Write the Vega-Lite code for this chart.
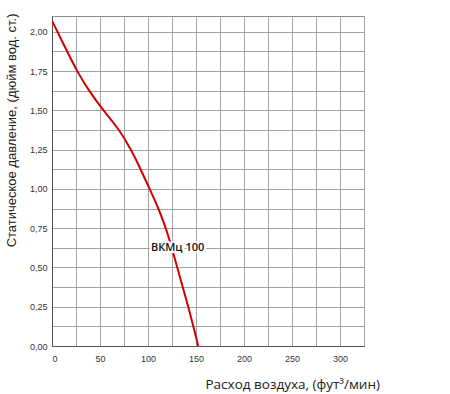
{
  "$schema": "https://vega.github.io/schema/vega-lite/v6.json",
  "autosize": "none",
  "width": 312,
  "height": 330,
  "padding": {"left": 52, "top": 16, "right": 86, "bottom": 48},
  "background": "white",
  "config": {
    "view": {"stroke": "#8c8c8c", "strokeWidth": 1},
    "font": "Liberation Sans"
  },
  "encoding": {
    "x": {
      "field": "q", "type": "quantitative",
      "scale": {"domain": [0, 325], "nice": false, "zero": false},
      "axis": {
        "values": [0, 25, 50, 75, 100, 125, 150, 175, 200, 225, 250, 275, 300, 325],
        "labelExpr": "(datum.value % 50 == 0 && datum.value <= 300) ? datum.label : ''",
        "grid": true, "gridColor": "#a3a3a3", "gridWidth": 1, "gridOpacity": 1,
        "domainColor": "#555555", "ticks": false,
        "labelFont": "Liberation Sans", "labelFontSize": 9, "labelColor": "#333333", "labelPadding": 8,
        "title": "Расход воздуха, (фут³/мин)",
        "titleFont": "Open Sans", "titleFontSize": 13.5, "titleFontWeight": "normal", "titleColor": "#222222",
        "titleAnchor": "start", "titleAlign": "left", "titleX": 153, "titleY": 42, "titleBaseline": "alphabetic"
      }
    },
    "y": {
      "field": "p", "type": "quantitative",
      "scale": {"domain": [0, 2.1], "nice": false, "zero": false},
      "axis": {
        "values": [0, 0.125, 0.25, 0.375, 0.5, 0.625, 0.75, 0.875, 1, 1.125, 1.25, 1.375, 1.5, 1.625, 1.75, 1.875, 2],
        "labelExpr": "(datum.value * 4) % 1 == 0 ? replace(format(datum.value, '.2f'), '.', ',') : ''",
        "grid": true, "gridColor": "#a3a3a3", "gridWidth": 1, "gridOpacity": 1,
        "domainColor": "#555555", "ticks": false,
        "labelFont": "Liberation Sans", "labelFontSize": 9, "labelColor": "#333333", "labelPadding": 5,
        "title": "Статическое давление, (дюйм вод. ст.)",
        "titleFont": "Liberation Sans", "titleFontSize": 13, "titleFontWeight": "normal", "titleColor": "#222222",
        "titleAnchor": "end", "titleX": -34, "titleY": -3
      }
    }
  },
  "layer": [
    {
      "data": {"values": [
        {"q": 0, "p": 2.07},
        {"q": 13, "p": 1.909},
        {"q": 26, "p": 1.748},
        {"q": 38.5, "p": 1.623},
        {"q": 53.4, "p": 1.499},
        {"q": 70.5, "p": 1.375},
        {"q": 82.3, "p": 1.25},
        {"q": 92.4, "p": 1.125},
        {"q": 101.6, "p": 1.0},
        {"q": 111, "p": 0.875},
        {"q": 118.7, "p": 0.75},
        {"q": 124.8, "p": 0.625},
        {"q": 130.5, "p": 0.5},
        {"q": 136.1, "p": 0.375},
        {"q": 142, "p": 0.25},
        {"q": 147.2, "p": 0.125},
        {"q": 152.4, "p": 0}
      ]},
      "mark": {"type": "line", "color": "#d40000", "strokeWidth": 2, "interpolate": "basis", "clip": true}
    },
    {
      "data": {"values": [{"q": 103, "p": 0.622, "label": "ВКМц 100"}]},
      "mark": {"type": "text", "align": "left", "baseline": "middle", "font": "Open Sans", "fontSize": 11, "fontWeight": 600, "stroke": "white", "strokeWidth": 4, "color": "white"},
      "encoding": {"text": {"field": "label"}}
    },
    {
      "data": {"values": [{"q": 103, "p": 0.622, "label": "ВКМц 100"}]},
      "mark": {"type": "text", "align": "left", "baseline": "middle", "font": "Open Sans", "fontSize": 11, "fontWeight": 600, "color": "#111111"},
      "encoding": {"text": {"field": "label"}}
    }
  ]
}
